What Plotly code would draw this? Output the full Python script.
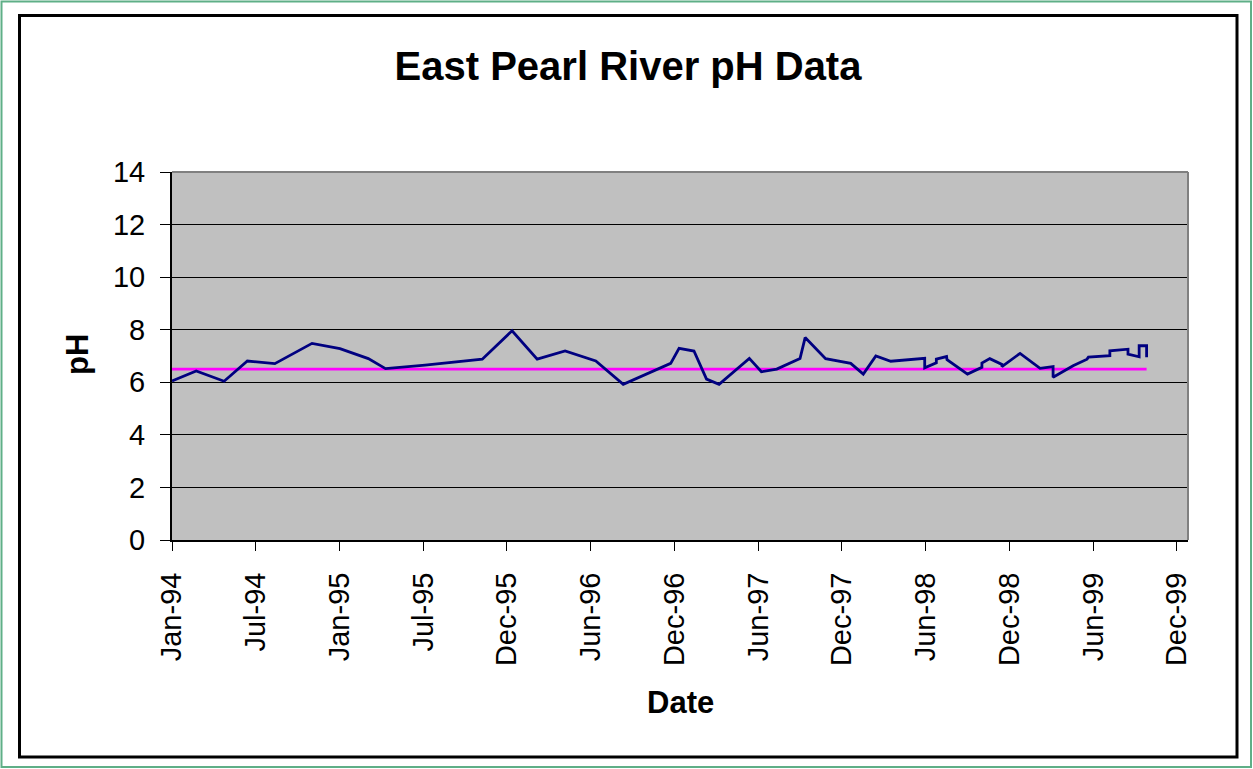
import plotly.graph_objects as go

# ---- data ----
sample_dates = [
    "1994-01-08", "1994-03-01", "1994-04-30", "1994-06-19", "1994-08-17",
    "1994-11-05", "1995-01-04", "1995-03-06", "1995-04-12", "1995-07-06",
    "1995-11-06", "1996-01-09", "1996-03-03", "1996-05-02", "1996-07-07",
    "1996-09-04", "1996-12-15", "1997-01-02", "1997-02-03", "1997-03-02",
    "1997-03-29", "1997-06-02", "1997-06-28", "1997-07-31", "1997-09-19",
    "1997-09-30", "1997-11-13", "1998-01-06", "1998-02-02", "1998-03-01",
    "1998-04-02", "1998-06-14", "1998-06-14", "1998-07-09", "1998-07-09",
    "1998-07-31", "1998-08-01", "1998-09-14", "1998-10-15", "1998-10-15",
    "1998-11-01", "1998-11-27", "1998-11-27", "1999-01-05", "1999-02-17",
    "1999-03-17", "1999-03-17", "1999-04-29", "1999-05-29", "1999-06-01",
    "1999-07-17", "1999-07-17", "1999-08-25", "1999-08-25", "1999-09-18",
    "1999-09-18", "1999-10-04", "1999-10-04",
]
ph_values = [
    6.05, 6.43, 6.04, 6.81, 6.71,
    7.48, 7.28, 6.90, 6.52, 6.65,
    6.88, 7.96, 6.88, 7.19, 6.81,
    5.92, 6.72, 7.29, 7.19, 6.12,
    5.92, 6.91, 6.40, 6.50, 6.90,
    7.70, 6.90, 6.72, 6.31, 7.00,
    6.80, 6.91, 6.55, 6.74, 6.88,
    6.98, 6.86, 6.31, 6.57, 6.73,
    6.90, 6.68, 6.60, 7.10, 6.53,
    6.60, 6.19, 6.63, 6.88, 6.96,
    7.01, 7.20, 7.26, 7.07, 6.97,
    7.39, 7.39, 6.95,
]
standard_values = [6.5, 6.5]

tick_dates = [
    "1994-01-08", "1994-07-07", "1995-01-03", "1995-07-02", "1995-12-29",
    "1996-06-26", "1996-12-23", "1997-06-21", "1997-12-18", "1998-06-16",
    "1998-12-13", "1999-06-11", "1999-12-08",
]
tick_labels = [
    "Jan-94", "Jul-94", "Jan-95", "Jul-95", "Dec-95", "Jun-96", "Dec-96",
    "Jun-97", "Dec-97", "Jun-98", "Dec-98", "Jun-99", "Dec-99",
]
y_ticks = [0, 2, 4, 6, 8, 10, 12, 14]

W, H = 1253, 769
L, R, T, B = 172, 1188, 172, 540  # plot area in page pixels
FONT = "Liberation Sans, Arial, sans-serif"


def px_x(p):
    return (p - L) / (R - L)


def px_y(p):
    return (B - p) / (B - T)


fig = go.Figure()
fig.add_trace(go.Scatter(
    x=[sample_dates[0], sample_dates[-1]], y=standard_values,
    mode="lines", line=dict(color="#FF00FF", width=2.8), showlegend=False,
))
fig.add_trace(go.Scatter(
    x=sample_dates, y=ph_values,
    mode="lines", line=dict(color="#000080", width=2.8), showlegend=False,
))

fig.update_layout(
    width=W, height=H,
    margin=dict(l=L, r=W - R, t=T, b=H - B, autoexpand=False),
    paper_bgcolor="white",
    plot_bgcolor="#C0C0C0",
    font=dict(family=FONT, color="black"),
    title=dict(
        text="<b>East Pearl River pH Data</b>",
        font=dict(size=40, family=FONT, color="black"),
        x=628 / W, xref="container", xanchor="center",
        y=1 - 66 / H, yref="container", yanchor="middle",
    ),
    xaxis=dict(
        type="date",
        range=["1994-01-08", "2000-01-01"],
        tickvals=tick_dates, ticktext=tick_labels,
        tickangle=-90,
        tickfont=dict(size=29, family=FONT, color="black"),
        ticks="outside", ticklen=9, tickcolor="black", tickwidth=1,
        ticklabelstandoff=10,
        showgrid=False, zeroline=False,
        showline=True, linecolor="black", linewidth=2,
        automargin=False,
    ),
    yaxis=dict(
        range=[0, 14],
        tickvals=y_ticks,
        tickfont=dict(size=29, family=FONT, color="black"),
        ticks="outside", ticklen=10, tickcolor="black", tickwidth=1,
        ticklabelstandoff=9,
        showgrid=True, gridcolor="black", gridwidth=1,
        zeroline=False,
        showline=True, linecolor="black", linewidth=2,
        automargin=False,
    ),
    annotations=[
        dict(text="<b>pH</b>", textangle=-90, showarrow=False,
             xref="paper", yref="paper", x=px_x(77), y=px_y(355),
             xanchor="center", yanchor="middle",
             font=dict(size=31, family=FONT, color="black")),
        dict(text="<b>Date</b>", showarrow=False,
             xref="paper", yref="paper", x=px_x(680), y=px_y(702),
             xanchor="center", yanchor="middle",
             font=dict(size=31, family=FONT, color="black")),
    ],
    shapes=[
        # outer green frame
        dict(type="rect", xref="paper", yref="paper",
             x0=px_x(1.5), x1=px_x(1251), y0=px_y(767), y1=px_y(1.5),
             line=dict(color="#5FAF87", width=2), layer="below"),
        # inner black frame
        dict(type="rect", xref="paper", yref="paper",
             x0=px_x(19.5), x1=px_x(1237), y0=px_y(757), y1=px_y(15.5),
             line=dict(color="black", width=3), layer="below"),
        # plot-area top and right border (gray)
        dict(type="line", xref="paper", yref="paper",
             x0=0, x1=1, y0=1, y1=1,
             line=dict(color="#808080", width=2), layer="above"),
        dict(type="line", xref="paper", yref="paper",
             x0=1, x1=1, y0=0, y1=1,
             line=dict(color="#808080", width=2), layer="above"),
    ],
)

fig.write_html(
    "out.html",
    config={"displayModeBar": False},
    post_script="document.body.style.margin='0';document.body.style.overflow='hidden';",
)
